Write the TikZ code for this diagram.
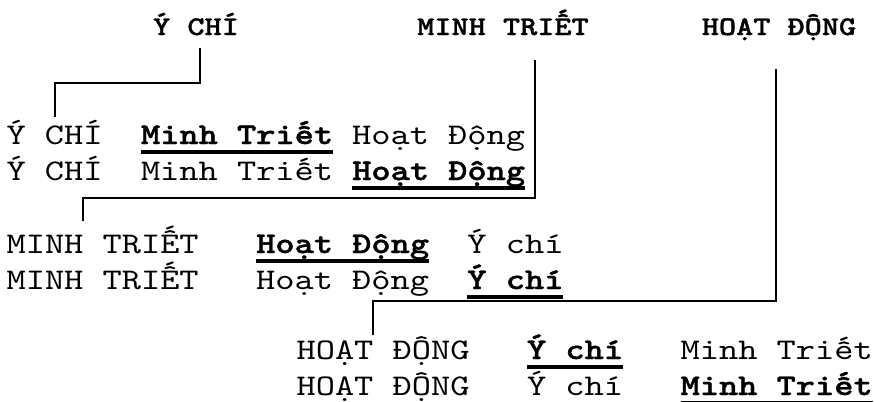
\documentclass[tikz,border=0pt]{standalone}
\usepackage{fontspec}
\newfontfamily\bodyf{lmmono10-regular}[Extension=.otf, FakeStretch=1.22]
\newfontfamily\bodyfb{lmmonolt10-bold}[Extension=.otf, FakeStretch=1.22, FakeBold=1.2]
\newfontfamily\ttlf{lmmonolt10-bold}[Extension=.otf, FakeStretch=1.21, FakeBold=1.2]
\usetikzlibrary{calc}
\tikzset{
  body/.style={font=\bodyf\fontsize{22.5pt}{22.5pt}\selectfont, inner sep=0pt, outer sep=0pt, anchor=base west},
  bodyb/.style={body, font=\bodyfb\fontsize{22.5pt}{22.5pt}\selectfont},
  ttl/.style={font=\ttlf\fontsize{20.25pt}{20.25pt}\selectfont, inner sep=0pt, outer sep=0pt, anchor=base},
  conn/.style={line width=1.3pt, line join=miter},
  uline/.style={line width=3pt},
}
\newcommand{\ul}[1]{\draw[uline] ($(#1.base west)+(0,7.5)$) -- ($(#1.base east)+(0,7.5)$);}
\begin{document}
\begin{tikzpicture}[x=0.75pt,y=-0.75pt]
\useasboundingbox (0,0) rectangle (874,401);
\def\cw{19.2}
% titles
\node[ttl] (t1) at (196,35) {Ý CHÍ};
\node[ttl] (t2) at (503,35) {MINH TRIẾT};
\node[ttl] (t3) at (779,35) {HOẠT ĐỘNG};
% rows 1-2
\def\ox{6.6}
\node[body]  (r1a) at (\ox,144) {Ý CHÍ};
\node[bodyb] (r1b) at ({\ox+7*\cw},144) {Minh Triết};
\node[body]  (r1c) at ({\ox+18*\cw},144) {Hoạt Động};
\node[body]  (r2a) at (\ox,180) {Ý CHÍ};
\node[body]  (r2b) at ({\ox+7*\cw},180) {Minh Triết};
\node[bodyb] (r2c) at ({\ox+18*\cw},180) {Hoạt Động};
% rows 3-4
\node[body]  (r3a) at (\ox,253) {MINH TRIẾT};
\node[bodyb] (r3b) at ({\ox+13*\cw},253) {Hoạt Động};
\node[body]  (r3c) at ({\ox+24*\cw},253) {Ý chí};
\node[body]  (r4a) at (\ox,289) {MINH TRIẾT};
\node[body]  (r4b) at ({\ox+13*\cw},289) {Hoạt Động};
\node[bodyb] (r4c) at ({\ox+24*\cw},289) {Ý chí};
% rows 5-6
\def\oy{296.6}
\node[body]  (r5a) at (\oy,359) {HOẠT ĐỘNG};
\node[bodyb] (r5b) at ({\oy+12*\cw},359) {Ý chí};
\node[body]  (r5c) at ({\oy+20*\cw},359) {Minh Triết};
\node[body]  (r6a) at (\oy,395) {HOẠT ĐỘNG};
\node[body]  (r6b) at ({\oy+12*\cw},395) {Ý chí};
\node[bodyb] (r6c) at ({\oy+20*\cw},395) {Minh Triết};
% underlines
\ul{r1b}\ul{r2c}\ul{r3b}\ul{r4c}\ul{r5b}\ul{r6c}
% connector elbows
\coordinate (k1s) at (200,48);  \coordinate (k1e) at (55,117);
\coordinate (k2s) at (535,60);  \coordinate (k2e) at (83,221);
\coordinate (k3s) at (776,69);  \coordinate (k3e) at (373,335);
\draw[conn] (k1s) -- (200,83) -| (k1e);
\draw[conn] (k2s) -- (535,198) -| (k2e);
\draw[conn] (k3s) -- (776,301) -| (k3e);
\end{tikzpicture}
\end{document}
